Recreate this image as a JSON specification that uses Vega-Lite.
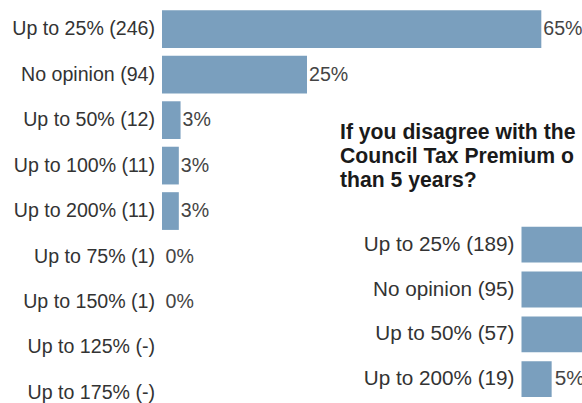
{
  "$schema": "https://vega.github.io/schema/vega-lite/v6.json",
  "width": 582,
  "height": 403,
  "autosize": "none",
  "padding": 0,
  "background": "white",
  "config": {"view": {"stroke": null}, "font": "Liberation Sans"},
  "title": {
    "text": ["If you disagree with the", "Council Tax Premium o", "than 5 years?"],
    "anchor": "start",
    "orient": "top",
    "frame": "group",
    "baseline": "top",
    "dx": 340,
    "dy": 191,
    "offset": 0,
    "font": "Liberation Sans",
    "fontSize": 21.2,
    "fontWeight": "bold",
    "lineHeight": 24,
    "color": "#1a1a1a"
  },
  "data": {
    "values": [
      {"chart": "A", "label": "Up to 25% (246)", "count": 246, "pct": 0.654},
      {"chart": "A", "label": "No opinion (94)", "count": 94, "pct": 0.25},
      {"chart": "A", "label": "Up to 50% (12)", "count": 12, "pct": 0.032},
      {"chart": "A", "label": "Up to 100% (11)", "count": 11, "pct": 0.029},
      {"chart": "A", "label": "Up to 200% (11)", "count": 11, "pct": 0.029},
      {"chart": "A", "label": "Up to 75% (1)", "count": 1, "pct": 0.0027},
      {"chart": "A", "label": "Up to 150% (1)", "count": 1, "pct": 0.0027},
      {"chart": "A", "label": "Up to 125% (-)", "count": null, "pct": null},
      {"chart": "A", "label": "Up to 175% (-)", "count": null, "pct": null},
      {"chart": "B", "label": "Up to 25% (189)", "count": 189, "pct": 0.515},
      {"chart": "B", "label": "No opinion (95)", "count": 95, "pct": 0.259},
      {"chart": "B", "label": "Up to 50% (57)", "count": 57, "pct": 0.155},
      {"chart": "B", "label": "Up to 200% (19)", "count": 19, "pct": 0.052}
    ]
  },
  "resolve": {"scale": {"x": "independent", "y": "independent"}},
  "layer": [
    {
      "transform": [{"filter": "datum.chart === 'A'"}],
      "encoding": {
        "y": {
          "field": "label",
          "type": "nominal",
          "sort": null,
          "axis": null,
          "scale": {"range": [6.5, 415.6], "paddingInner": 0.17, "paddingOuter": 0.085}
        }
      },
      "layer": [
        {
          "transform": [{"filter": "datum.pct != null && datum.pct >= 0.005"}],
          "mark": {"type": "bar", "color": "#7a9fbe"},
          "encoding": {
            "x": {"field": "pct", "type": "quantitative", "axis": null,
                  "scale": {"domain": [0, 1], "range": [162, 742], "nice": false, "clamp": false}}
          }
        },
        {
          "mark": {"type": "text", "align": "right", "baseline": "middle", "dx": -7, "fontSize": 19.6, "color": "#333333"},
          "encoding": {
            "x": {"datum": 0, "type": "quantitative"},
            "text": {"field": "label"}
          }
        },
        {
          "transform": [{"filter": "datum.pct != null"}],
          "mark": {"type": "text", "align": "left", "baseline": "middle", "dx": 2, "fontSize": 19.6, "color": "#444444"},
          "encoding": {
            "x": {"field": "pct", "type": "quantitative"},
            "text": {"field": "pct", "format": ".0%"}
          }
        }
      ]
    },
    {
      "transform": [{"filter": "datum.chart === 'B'"}],
      "encoding": {
        "y": {
          "field": "label",
          "type": "nominal",
          "sort": null,
          "axis": null,
          "scale": {"range": [222.3, 401.5], "paddingInner": 0.2, "paddingOuter": 0.1}
        }
      },
      "layer": [
        {
          "mark": {"type": "bar", "color": "#7a9fbe"},
          "encoding": {
            "x": {"field": "pct", "type": "quantitative", "axis": null,
                  "scale": {"domain": [0, 1], "range": [521.5, 1101.5], "nice": false}}
          }
        },
        {
          "mark": {"type": "text", "align": "right", "baseline": "middle", "dx": -7, "fontSize": 20.7, "color": "#333333"},
          "encoding": {
            "x": {"datum": 0, "type": "quantitative"},
            "text": {"field": "label"}
          }
        },
        {
          "mark": {"type": "text", "align": "left", "baseline": "middle", "dx": 3, "fontSize": 20.7, "color": "#444444"},
          "encoding": {
            "x": {"field": "pct", "type": "quantitative"},
            "text": {"field": "pct", "format": ".0%"}
          }
        }
      ]
    }
  ]
}
